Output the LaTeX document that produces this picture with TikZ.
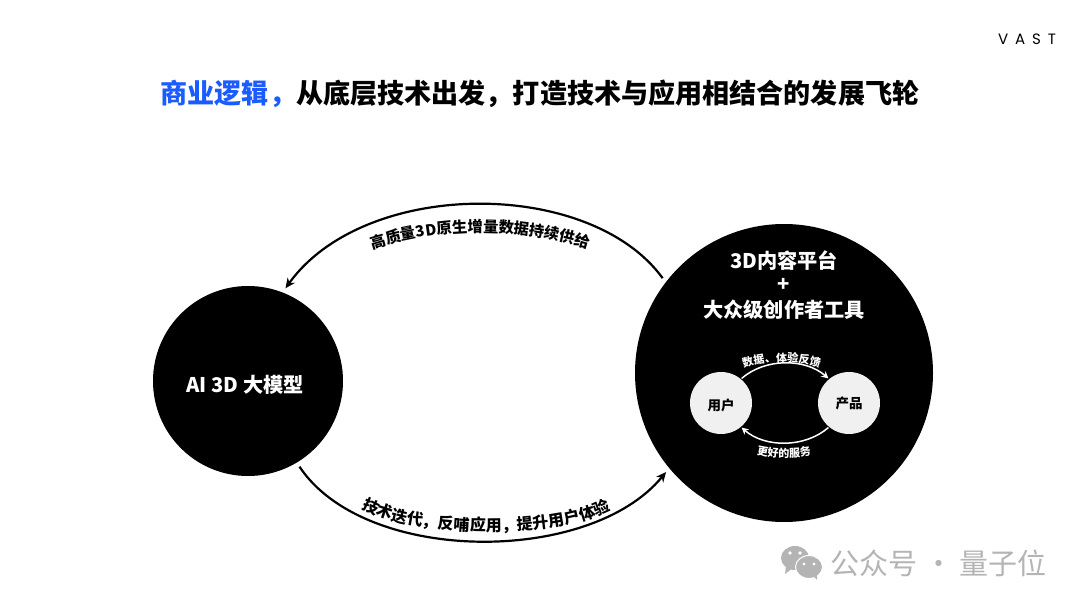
\documentclass[tikz,border=0pt]{standalone}
\usepackage{fontspec}
\setmainfont{Noto Sans CJK SC}
\newfontfamily\logofont[LetterSpace=46]{Poppins}
\usetikzlibrary{arrows.meta,decorations.text}
\definecolor{titleblue}{HTML}{1A5CFF}
\definecolor{softgray}{HTML}{F0F0F0}
\definecolor{markgray}{HTML}{B4B4B4}
\newcommand{\fsize}[1]{\fontsize{#1}{#1}\selectfont}
\tikzset{
  bigcircle/.style={circle,fill=black,outer sep=5pt,inner sep=0pt},
  smallcircle/.style={circle,fill=softgray,minimum size=62pt,inner sep=0pt,outer sep=1pt},
  smalllabel/.style={font=\fsize{13.5}\bfseries},
  flowarrow/.style={line width=2.2pt,-{Stealth[length=10pt,width=9pt]}},
  innerarrow/.style={white,line width=1.5pt,-{Stealth[length=7pt,width=7pt]}},
  whitelabel/.style={text=white,font=\fsize{20.2}\bfseries},
}
\begin{document}
\begin{tikzpicture}[x=1pt,y=-1pt]
  \useasboundingbox (0,0) rectangle (1080,607);
  % titulo
  \node (title) at (540,94) {\fsize{27.1}\bfseries\textcolor{titleblue}{商业逻辑，}从底层技术出发，打造技术与应用相结合的发展飞轮};
  \node (logo) at (1027,39) {\logofont\fsize{15}VAST};
  % circulos
  \node[bigcircle,minimum size=190pt] (model) at (248,381) {};
  \node[whitelabel] (modellabel) at (245,385) {AI 3D 大模型};
  \node[bigcircle,minimum size=298pt] (platform) at (784,373) {};
  \node[whitelabel] (platformtop) at (784,261) {3D内容平台};
  \node[whitelabel] (platformplus) at (784,285) {+};
  \node[whitelabel] (platformtool) at (784,310) {大众级创作者工具};
  \node[smallcircle] (user) at (721,403) {};
  \node[smallcircle] (product) at (849,403) {};
  \node[smalllabel] (userlabel) at (721,405) {用户};
  \node[smalllabel] (productlabel) at (849,403) {产品};
  % flechas grandes
  \draw[flowarrow] (platform.142) .. controls (590,178) and (365,178) .. (model.68);
  \draw[flowarrow] (model.-59) .. controls (365,565) and (590,565) .. (platform.220);
  % flechas chicas
  \draw[innerarrow] (user.50) .. controls (765,358) and (805,358) .. (product.130);
  \draw[innerarrow] (product.-130) .. controls (805,448) and (765,448) .. (user.-50);
  % textos curvos
  \path[decorate,decoration={text along path,text align=center,
    text={|\fsize{15.3}\bfseries|高质量3D原生增量数据持续供给}}]
    (367,251) .. controls (440,226) and (520,226) .. (594,250);
  \path[decorate,decoration={text along path,text align=center,
    text={|\fsize{16}\bfseries|技术迭代，反哺应用，提升用户体验}}]
    (360,507) .. controls (410,539) and (560,539) .. (612,509);
  \path[decorate,decoration={text along path,text align=center,
    text={|\fsize{11}\bfseries\color{white}|数据、体验反馈}}]
    (743,368) .. controls (765,360) and (800,360) .. (820,368);
  \path[decorate,decoration={text along path,text align=center,
    text={|\fsize{11}\bfseries\color{white}|更好的服务}}]
    (757,454) .. controls (772,458) and (796,458) .. (811,455);
  % marca de agua
  \fill[markgray] (795,558) ellipse (14 and 12);
  \fill[markgray] (786,566) -- (785,574) -- (793,568) -- cycle;
  \fill[markgray,draw=white,line width=1pt] (809,567) ellipse (13.5 and 11.5);
  \fill[markgray] (813,576) -- (817,580) -- (817,573) -- cycle;
  \foreach \ex/\ey in {790/553,800/553} \fill[white] (\ex,\ey) circle (1.9);
  \foreach \ex/\ey in {804/564,814/564} \fill[white] (\ex,\ey) circle (1.7);
  \node[text=markgray] (mark) at (938.5,563) {\fsize{29}公众号 · 量子位};
\end{tikzpicture}
\end{document}
